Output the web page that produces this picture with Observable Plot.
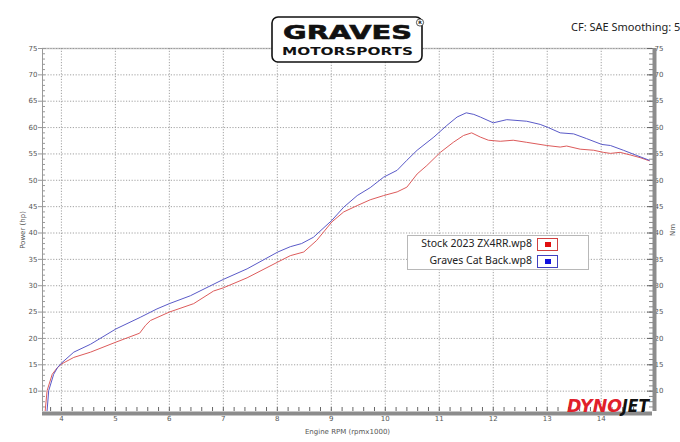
<!DOCTYPE html>
<html>
<head>
<meta charset="utf-8">
<script src="https://cdn.jsdelivr.net/npm/d3@7"></script>
<script src="https://cdn.jsdelivr.net/npm/@observablehq/plot@0.6"></script>
<style>
  body { margin: 0; background: #fff; }
  #wrap { position: relative; width: 680px; height: 442px; overflow: hidden; font-family: "Noto Sans", sans-serif; }
  #chart svg { display: block; }
  #overlay { position: absolute; left: 0; top: 0; pointer-events: none; }
  #cf { position: absolute; left: 571px; top: 19px; font-size: 11px; color: #222; white-space: nowrap; }
  #legend { position: absolute; left: 407px; top: 235px; width: 180px; height: 33px; border: 1px solid #b8b8b8; background: #fff; }
  .row { position: absolute; font-size: 10.5px; color: #222; white-space: nowrap; text-align: right; }
  .sw { position: absolute; left: 129px; width: 21px; height: 13px; border: 1px solid; box-sizing: border-box; }
  .sw i { position: absolute; left: 7px; top: 3px; width: 6px; height: 5px; }
</style>
</head>
<body>
<div id="wrap">
  <div id="chart"></div>
  <svg id="overlay" width="680" height="442">
    <!-- Graves logo -->
    <rect x="272" y="17" width="150" height="45" rx="6" fill="#fff" stroke="#111" stroke-width="1.6"></rect>
    <text x="283" y="39" font-family="DejaVu Sans" font-weight="bold" font-size="19.5" textLength="129" lengthAdjust="spacingAndGlyphs" fill="#111" stroke="#111" stroke-width="0.6">GRAVES</text>
    <text x="282" y="54.5" font-family="DejaVu Sans" font-weight="bold" font-size="11" textLength="131" lengthAdjust="spacingAndGlyphs" fill="#111">MOTORSPORTS</text>
    <circle cx="420" cy="22.5" r="3.6" fill="#fff" stroke="#111" stroke-width="0.7"></circle>
    <text x="420" y="24.3" text-anchor="middle" font-family="DejaVu Sans" font-weight="bold" font-size="4.6" fill="#111">R</text>
    <!-- Dynojet logo -->
    <text x="567" y="411.5" font-family="DejaVu Sans" font-weight="900" font-style="italic" font-size="17" textLength="55" lengthAdjust="spacingAndGlyphs" fill="#e0202a">DYNO</text>
    <text x="622" y="411.5" font-family="DejaVu Sans" font-weight="900" font-style="italic" font-size="17" textLength="27" lengthAdjust="spacingAndGlyphs" fill="#111">JET</text>
  </svg>
  <div id="cf">CF: SAE Smoothing: 5</div>
  <div id="legend"></div>
</div>
<script>
// Dyno pull readings (engine rpm x1000, power hp)
const seriesNames = ["Stock 2023 ZX4RR.wp8", "Graves Cat Back.wp8"];

const stockRpm = [3.70, 3.735, 3.83, 3.92, 4.01, 4.23, 4.54, 5.01, 5.45, 5.56, 5.65, 6.0, 6.45, 6.82, 7.0,
  7.44, 8.01, 8.24, 8.49, 8.73, 9.01, 9.23, 9.48, 9.72, 9.97, 10.22, 10.40, 10.59, 10.77, 11.02,
  11.26, 11.45, 11.6, 11.76, 11.91, 12.13, 12.37, 12.62, 12.99, 13.24, 13.36, 13.61, 13.86, 14.04,
  14.17, 14.35, 14.54, 14.72, 14.89];
const stockHp = [6.3, 10.1, 13.2, 14.4, 15.2, 16.4, 17.4, 19.3, 21.0, 22.5, 23.4, 25.0, 26.6, 29.0, 29.6,
  31.5, 34.5, 35.7, 36.4, 38.6, 42.1, 44.0, 45.2, 46.3, 47.1, 47.8, 48.7, 51.2, 52.8, 55.3,
  57.2, 58.5, 59.0, 58.2, 57.6, 57.4, 57.6, 57.2, 56.6, 56.3, 56.5, 55.9, 55.7, 55.3,
  55.1, 55.3, 54.8, 54.3, 53.7];

const gravesRpm = [3.735, 3.765, 3.857, 3.93, 4.01, 4.23, 4.54, 5.01, 5.46, 5.77, 6.0, 6.39, 7.0, 7.44,
  8.01, 8.24, 8.45, 8.67, 9.01, 9.23, 9.48, 9.72, 9.97, 10.22, 10.40, 10.59, 10.9, 11.14, 11.33,
  11.5, 11.64, 11.76, 12.0, 12.25, 12.62, 12.87, 13.02, 13.24, 13.49, 13.73, 14.01, 14.17, 14.41,
  14.66, 14.89];
const gravesHp = [6.3, 10.1, 13.2, 14.5, 15.4, 17.4, 18.9, 21.8, 24.0, 25.6, 26.6, 28.1, 31.2, 33.2,
  36.4, 37.4, 38.0, 39.2, 42.4, 44.9, 47.1, 48.6, 50.6, 51.9, 53.8, 55.7, 58.2, 60.4, 62.0,
  62.8, 62.5, 62.0, 60.9, 61.5, 61.2, 60.6, 60.0, 59.0, 58.8, 57.9, 56.8, 56.6, 55.7,
  54.7, 53.8];

const xTicks = [4, 5, 6, 7, 8, 9, 10, 11, 12, 13, 14];
const yTicks = [10, 15, 20, 25, 30, 35, 40, 45, 50, 55, 60, 65, 70, 75];
const xDomain = [3.65, 14.95];
const yDomain = [6.14, 75];

const stock = stockRpm.map((r, i) => ({rpm: r, hp: stockHp[i]}));
const graves = gravesRpm.map((r, i) => ({rpm: r, hp: gravesHp[i]}));
const xMinor = d3.range(38, 150, 2).map(d => d / 10);
const yMinor = d3.range(7, 76);

const red = "#dd5b5b";
const blue = "#5a5ac8";
const grid = {stroke: "#8a8a8a", strokeWidth: 0.8, strokeDasharray: "1.2,1.6"};

const plot = Plot.plot({
  width: 680,
  height: 442,
  marginLeft: 42,
  marginRight: 28,
  marginTop: 48,
  marginBottom: 31,
  style: {fontFamily: "DejaVu Sans", fontSize: "7px", color: "#555", background: "transparent"},
  x: {domain: xDomain},
  y: {domain: yDomain},
  marks: [
    Plot.ruleY([yDomain[1]], {stroke: "#c8c8c8", strokeWidth: 1.5}),
    Plot.ruleX(xTicks, grid),
    Plot.ruleY(yTicks, grid),
    // left axis
    Plot.ruleX([xDomain[0]], {stroke: "#999"}),
    Plot.axisY(yMinor, {anchor: "left", tickSize: -3, tickFormat: () => "", label: null, stroke: "#999"}),
    Plot.axisY(yTicks, {anchor: "left", tickSize: 4, tickPadding: 1, label: "Power (hp)", labelAnchor: "center", labelOffset: 22, labelArrow: "none", stroke: "#999"}),
    // right axis
    Plot.axisY(yMinor, {anchor: "right", tickSize: -4, tickFormat: () => "", label: null, stroke: "#888"}),
    Plot.axisY(yTicks, {anchor: "right", tickSize: -6, tickPadding: 8, label: "Nm", labelAnchor: "center", labelOffset: 22, labelArrow: "none", stroke: "#666"}),
    Plot.ruleX([xDomain[1]], {stroke: "#8c8c8c", strokeWidth: 4, dx: 2}),
    // bottom axis
    Plot.ruleY([yDomain[0]], {stroke: "#8c8c8c", strokeWidth: 4, dy: 2}),
    Plot.axisX(xMinor, {anchor: "bottom", tickSize: -4, tickFormat: () => "", label: null, stroke: "#666"}),
    Plot.axisX(xTicks, {anchor: "bottom", tickSize: 0, tickPadding: 5, label: "Engine RPM (rpmx1000)", labelAnchor: "center", labelOffset: 22, labelArrow: "none"}),
    // dyno curves
    Plot.line(stock, {x: "rpm", y: "hp", stroke: red, strokeWidth: 1}),
    Plot.line(graves, {x: "rpm", y: "hp", stroke: blue, strokeWidth: 1})
  ]
});
document.getElementById("chart").appendChild(plot);

// legend
const legend = document.getElementById("legend");
const swatchColors = ["#e01010", "#1010e0"];
const borderColors = ["#d04040", "#4040c0"];
seriesNames.forEach((name, i) => {
  const row = document.createElement("div");
  row.className = "row";
  row.style.top = (i * 17) + "px";
  row.style.right = "56px";
  row.textContent = name;
  legend.appendChild(row);
  const sw = document.createElement("div");
  sw.className = "sw";
  sw.style.top = (2 + i * 17) + "px";
  sw.style.borderColor = borderColors[i];
  const dot = document.createElement("i");
  dot.style.background = swatchColors[i];
  sw.appendChild(dot);
  legend.appendChild(sw);
});
</script>
</body>
</html>
